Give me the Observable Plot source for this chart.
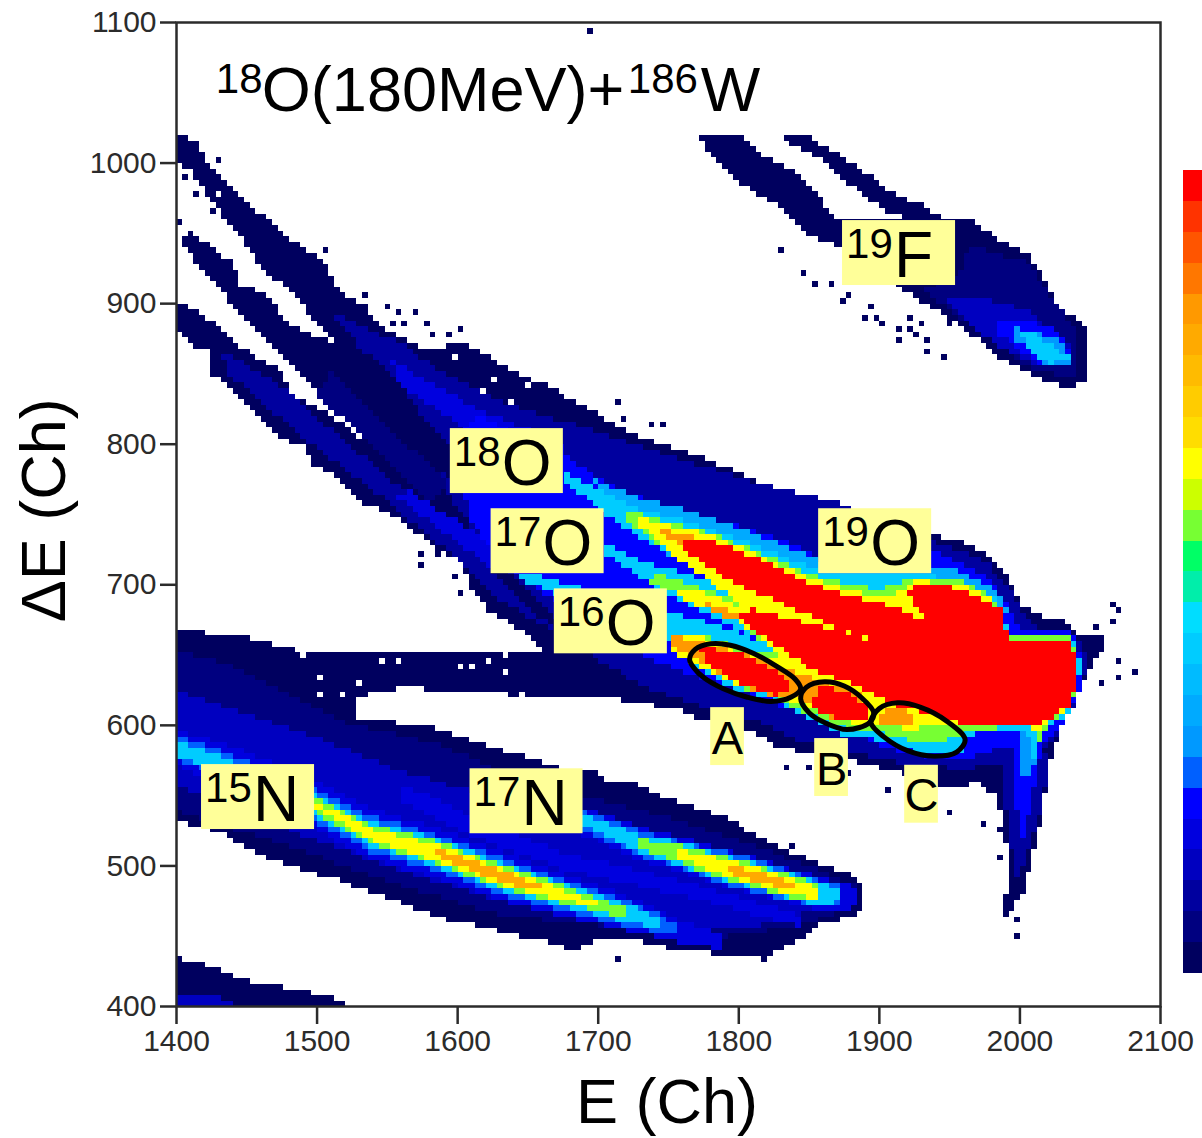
<!DOCTYPE html>
<html>
<head>
<meta charset="utf-8">
<script src="https://cdn.jsdelivr.net/npm/d3@7"></script>
<script src="https://cdn.jsdelivr.net/npm/@observablehq/plot@0.6"></script>
<style>html,body{margin:0;padding:0;background:#fff}svg{display:block}</style>
</head>
<body>
<div id="chart"></div>
<script>
const FONT = "'Liberation Sans', Arial, sans-serif";
// palette, from the colour bar, bottom (level 0) to top (level 25)
const palette = ["#00005f","#000080","#00009f","#0000c0","#0000df","#0000ff","#0060ff","#0099ff","#00aaff","#00bbff","#00ccff","#00ddff","#00eeaa","#00ff66","#77ff33","#ccff00","#ffff00","#ffdd00","#ffcc00","#ffbb00","#ffaa00","#ff9900","#ff7700","#ff5500","#ff3300","#ff0000"];
const xTicks = [1400,1500,1600,1700,1800,1900,2000,2100];
const yTicks = [400,500,600,700,800,900,1000,1100];

// ---- population outlines, [E, dE] in channels
const strand18O = [[1400,1021],[1414,1016],[1421,1000],[1440,983],[1455,968],[1479,948],[1507,929],[1515,909],[1533,900],[1543,886],[1576,867],[1604,872],[1640,852],[1671,838],[1704,819],[1728,805],[1751,799],[1751,720],[1650,770],[1580,810],[1524,860],[1515,869],[1497,888],[1486,904],[1467,919],[1453,936],[1441,954],[1424,973],[1412,993],[1403,1000],[1400,1005]];
const strand17O = [[1408,952],[1422,943],[1440,929],[1446,914],[1467,904],[1476,888],[1502,876],[1519,869],[1560,830],[1600,770],[1522,819],[1500,838],[1490,847],[1472,865],[1448,888],[1429,914],[1416,926],[1405,943]];
const strand16O = [[1400,902],[1422,890],[1446,869],[1474,852],[1483,833],[1497,829],[1515,817],[1538,800],[1552,786],[1600,790],[1700,700],[1662,653],[1635,675],[1623,680],[1609,698],[1604,715],[1581,729],[1552,751],[1533,758],[1522,769],[1512,779],[1497,786],[1490,800],[1476,803],[1460,819],[1446,833],[1426,850],[1424,865],[1410,872],[1400,883]];
const mainComplex = [[1560,800],[1576,867],[1604,872],[1640,852],[1671,838],[1704,819],[1728,805],[1751,799],[1787,785],[1820,771],[1851,762],[1882,749],[1936,736],[1958,731],[1974,723],[1991,708],[2000,687],[2020,676],[2036,673],[2041,665],[2059,662],[2059,655],[2052,644],[2043,625],[2031,603],[2022,575],[2015,534],[2008,502],[2003,483],[1991,463],[1988,470],[1993,490],[1990,518],[1984,549],[1970,559],[1941,554],[1917,566],[1879,575],[1851,580],[1828,584],[1810,596],[1768,606],[1756,611],[1716,618],[1668,620],[1665,650],[1620,700],[1580,770]];
const nitrogenBand = [[1400,667],[1438,665],[1488,653],[1524,652],[1595,652],[1671,653],[1680,640],[1668,620],[1561,627],[1526,620],[1529,606],[1586,598],[1604,591],[1633,582],[1673,570],[1699,568],[1709,559],[1723,561],[1739,552],[1768,542],[1796,532],[1815,520],[1830,513],[1851,504],[1877,495],[1888,488],[1888,470],[1879,463],[1858,459],[1849,449],[1825,440],[1818,435],[1780,438],[1749,442],[1730,446],[1700,449],[1685,440],[1659,447],[1597,461],[1561,473],[1515,490],[1462,506],[1429,525],[1400,532]];
const lowestBand = [[1400,400],[1400,435],[1417,431],[1453,418],[1490,411],[1519,404],[1520,400]];
const lowestCore = [[1400,400],[1400,410],[1430,408],[1445,400]];
const fluorineMain = [[1771,1021],[1803,1021],[1815,1007],[1837,995],[1853,983],[1860,971],[1872,959],[1920,960],[1963,961],[1984,947],[2005,936],[2017,919],[2027,900],[2048,881],[2048,847],[2038,840],[2017,845],[1984,862],[1960,883],[1915,911],[1870,941],[1853,947],[1837,961],[1825,971],[1801,985],[1783,1002],[1773,1016]];
const fluorineUpper = [[1832,1021],[1851,1018],[1863,1011],[1877,1002],[1896,990],[1908,980],[1929,971],[1944,961],[1933,958],[1911,963],[1894,973],[1880,984],[1865,998],[1848,1009],[1833,1016]];
const fluorineL1 = [[1963,943],[2005,929],[2041,879],[2041,847],[2010,852],[1972,879],[1931,909],[1960,924]];
const fluorineL3 = [[1948,904],[1972,904],[2008,895],[2036,869],[2038,857],[2015,855],[1984,869],[1953,895]];
const fluorineL5 = [[1984,888],[2005,890],[2029,879],[2038,860],[2015,856],[1984,879]];
const fluorineL7 = [[1995,883],[2027,876],[2037,857],[2017,857],[1998,874]];
const fluorineL10 = [[2000,879],[2010,879],[2036,862],[2020,857],[2005,869]];

const nitrogenL1 = [[1400,653],[1438,643],[1474,625],[1517,603],[1588,586],[1645,561],[1702,547],[1744,536],[1801,518],[1858,497],[1883,486],[1883,472],[1844,458],[1773,447],[1702,458],[1630,465],[1559,486],[1488,511],[1445,525],[1400,539]];
const nitrogenL3 = [[1400,625],[1488,596],[1559,568],[1630,547],[1730,518],[1815,497],[1879,479],[1879,475],[1815,458],[1737,454],[1630,475],[1559,497],[1488,522],[1400,558]];

const strip16L2 = [[1431,867],[1474,842],[1502,817],[1545,781],[1581,753],[1609,724],[1638,696],[1670,667],[1630,689],[1588,728],[1545,763],[1502,795],[1467,824],[1438,849]];
const strip17L1 = [[1510,852],[1595,770],[1580,760],[1500,835]];
const strip18L2 = [[1510,895],[1552,875],[1588,850],[1630,830],[1660,815],[1700,790],[1660,790],[1609,812],[1566,838],[1531,868]];
const complexL2 = [[1538,874],[1552,877],[1588,852],[1630,831],[1673,817],[1737,796],[1808,774],[1865,760],[1936,732],[1976,717],[1993,696],[2008,671],[2040,664],[2050,646],[2040,618],[2029,596],[2010,575],[1958,569],[1915,573],[1879,581],[1844,589],[1815,602],[1773,614],[1730,628],[1702,646],[1673,675],[1630,717],[1595,760],[1581,810],[1559,845]];
const navyBetween = [[1540,850],[1590,805],[1610,780],[1620,765],[1600,770],[1575,795],[1545,825]];
const strip18L4 = [[1552,860],[1616,824],[1677,799],[1675,781],[1616,803],[1559,842]];
const strip16L4 = [[1566,767],[1609,739],[1630,728],[1630,707],[1588,739],[1556,763]];
const tailL2 = [[1986,575],[2022,582],[2015,539],[2004,504],[1997,490],[1992,525],[1988,554]];
const complexL5 = [[1616,820],[1675,792],[1716,767],[1766,751],[1823,735],[1856,721],[1901,717],[1940,723],[1974,708],[1991,687],[2000,667],[2037,669],[2044,644],[2042,625],[2036,609],[2027,598],[2015,586],[1979,582],[1958,574],[1915,581],[1879,594],[1823,616],[1773,634],[1739,646],[1716,664],[1668,689],[1630,717],[1609,746],[1598,803]];
const tailL5 = [[1997,586],[2016,586],[2008,547],[2000,511],[1997,554]];
const tailL7 = [[2002,596],[2015,593],[2008,561],[2002,565]];
const complexSky = [[1690,778],[1730,762],[1773,750],[1815,735],[1858,718],[1901,716],[1953,711],[1984,697],[1993,680],[1900,680],[1750,720]];
const complexCyan = [[1675,780],[1702,767],[1730,754],[1773,742],[1815,727],[1858,709],[1901,709],[1953,705],[1984,690],[1993,666],[2036,666],[2043,646],[2041,627],[2034,608],[2018,599],[2010,577],[2004,598],[1979,596],[1963,593],[1959,581],[1936,578],[1901,589],[1872,594],[1844,609],[1823,618],[1794,627],[1766,644],[1748,660],[1702,680],[1645,704],[1645,710],[1702,694],[1751,680],[1787,671],[1818,657],[1799,669],[1773,682],[1744,696],[1716,714],[1704,723],[1704,731],[1730,717],[1759,709],[1780,702],[1798,695],[1766,715],[1739,728],[1709,747],[1692,761],[1675,774]];
const complexGreen = [[1719,753],[1773,739],[1815,723],[1851,707],[1901,696],[1919,704],[1961,702],[1983,689],[1992,664],[2035,664],[2042,646],[2040,626],[2033,611],[2020,601],[2013,588],[2008,599],[1983,598],[1963,595],[1950,590],[1933,586],[1904,594],[1876,598],[1847,609],[1826,620],[1798,628],[1769,645],[1753,657],[1750,665],[1773,665],[1805,653],[1828,650],[1798,675],[1773,685],[1755,694],[1730,704],[1744,707],[1766,700],[1798,689],[1773,710],[1744,728],[1719,747]];
const complexYellow = [[1730,747],[1773,738],[1815,721],[1851,704],[1901,690],[1917,696],[1926,703],[1961,700],[1979,690],[1990,662],[2034,662],[2041,646],[2039,626],[2033,612],[2020,602],[2013,593],[2008,601],[1983,601],[1962,598],[1940,600],[1925,597],[1901,600],[1892,601],[1872,603],[1847,614],[1826,621],[1798,630],[1773,641],[1755,651],[1751,663],[1773,663],[1805,651],[1833,646],[1801,674],[1773,684],[1759,691],[1756,696],[1773,695],[1805,683],[1798,689],[1773,707],[1751,723],[1730,742]];
const orangeTip18 = [[1739,741],[1766,735],[1787,728],[1766,726],[1748,733]];
const orangeTip17 = [[1775,687],[1801,680],[1801,675],[1781,680]];
const orangeTip16 = [[1750,664],[1773,660],[1787,650],[1766,650],[1752,655]];
const orangeAB = [[1773,657],[1805,652],[1837,639],[1858,632],[1886,625],[1894,611],[1890,602],[1865,605],[1840,621],[1823,621],[1794,632],[1773,646]];
const orangeC = [[1901,609],[1915,614],[1926,603],[1912,598],[1901,602]];
const redMain = [[1760,731],[1780,732],[1810,720],[1844,704],[1867,695],[1899,688],[1920,680],[1934,672],[1920,696],[1929,701],[1960,697],[1974,690],[1986,684],[1991,662],[2034,660],[2040,646],[2040,627],[2034,613],[2020,603],[2010,601],[1981,601],[1963,600],[1943,606],[1906,616],[1882,630],[1856,637],[1830,655],[1813,665],[1800,680],[1810,683],[1846,673],[1870,668],[1899,658],[1899,659],[1867,670],[1844,681],[1810,695],[1787,707],[1760,726]];
const redA = [[1771,655],[1796,653],[1823,641],[1839,627],[1828,621],[1815,625],[1796,632],[1778,644]];
const redB = [[1856,627],[1877,625],[1892,613],[1892,602],[1867,606],[1851,613]];

// ---- nitrogen ridges: E, centre dE, half-widths of levels 4, 6, 10, 14, 16, 20, 25
const ridgeLevels = [4,6,10,14,16,20,25];
const ridge15N = [[1400,584,13,9,6,0,0,0,0],[1420,577,14,9,5,0,0,0,0],[1450,565,16,10,6,0,0,0,0],[1497,544,17,12,8,5,2,0,0],[1538,523,18,13,9,7,4,0,0],[1586,509,18,13,10,8,6,3,0],[1633,492,17,13,10,8,6,4,0],[1660,484,16,12,9,7,5,2,0],[1680,478,15,11,8,6,3,0,0],[1702,472,13,10,7,4,1,0,0],[1721,466,12,9,6,3,0,0,0],[1744,459,10,7,4,0,0,0,0],[1756,454,8,4,0,0,0,0,0],[1790,445,5,0,0,0,0,0,0]];
const ridge16N = [[1561,552,6,0,0,0,0,0,0],[1608,529,7,0,0,0,0,0,0],[1673,504,6,0,0,0,0,0,0],[1768,482,5,0,0,0,0,0,0],[1844,461,4,0,0,0,0,0,0]];
const ridge17N = [[1645,547,6,0,0,0,0,0,0],[1690,532,10,7,4,0,0,0,0],[1730,516,12,9,6,3,0,0,0],[1756,509,12,9,8,6,3,0,0],[1792,498,13,12,9,8,6,3,0],[1815,492,13,12,9,8,6,4,1],[1839,485,12,10,9,8,6,3,0],[1858,480,12,10,8,5,3,0,0],[1874,478,10,7,3,0,0,0,0],[1885,478,5,0,0,0,0,0,0]];

// isolated filled bins and dropped bins
const strayBinsE = [2066,2070,2054,2066,2070,2081,2069,2059,1695,1833,1849,1879,1906,1949,1974,1986,1986,1998,1998,1837,1712,1818,1830,1847,1853,1865,1879,1874,1894,1896,1888,1903,1913,1922,1929,1924,1913,1935,1934,1947,1920,1948,1404,1430,1412,1426,1400,1506,1533,1549,1557,1571,1561,1552,1578,1583,1593,1601,1712,1717,1739,1746,1575,1586,1574,1597,1602,1613];
const strayBinsDE = [687,680,670,672,646,639,635,631,1092,571,571,566,555,538,530,527,506,461,450,515,434,435,939,922,913,914,904,902,899,890,890,886,883,881,886,876,875,872,867,863,890,886,990,1002,978,967,959,936,906,899,894,894,887,887,886,879,879,883,830,819,815,812,723,721,712,704,694,703];
const droppedBinsE = [1430,1598,1625,1618,1636,1650,1458,1475,1417,1501,1529,1488,1502,1519,1559,1545,1600,1609,1620,1633,1633,1645,1579,1597,1557,1480];
const droppedBinsDE = [979,862,845,837,830,842,918,914,635,635,630,651,623,620,646,644,643,643,645,651,639,623,623,622,627,602];

// ---- annotation values
const labelNumbers = ["18","17","16","19","19","15","17"];
const labelElements = ["O","O","O","O","F","N","N"];
const labelE = [1635,1664,1709,1897,1914,1458,1649];
const labelDE = [788,731,674,731,936,549,546];
const letters = ["A","B","C"];
const letterE = [1792,1866,1930];
const letterDE = [592,570,551];
const ellipseA = [[1765,647],[1769,654],[1780,658],[1794,657],[1811,651],[1827,642],[1840,633],[1844,626],[1837,620],[1823,617],[1806,620],[1789,626],[1775,634],[1768,641]];
const ellipseB = [[1844,619],[1848,627],[1861,631],[1875,628],[1887,620],[1896,609],[1893,602],[1877,597],[1861,602],[1850,609]];
const ellipseC = [[1894,602],[1900,612],[1913,616],[1929,613],[1948,603],[1961,590],[1955,581],[1939,578],[1920,582],[1903,592]];

// ---- paint order of the density layers
const layers = [
  [0,strand18O],[0,strand17O],[0,strand16O],[0,mainComplex],[0,nitrogenBand],[0,lowestBand],[0,fluorineMain],[0,fluorineUpper],
  [3,lowestCore],[1,fluorineL1],[3,fluorineL3],[5,fluorineL5],[7,fluorineL7],[10,fluorineL10],
  [1,nitrogenL1],[3,nitrogenL3],[2,strip16L2],[1,strip17L1],[2,strip18L2],[2,complexL2],[2,tailL2],[0,navyBetween],[4,strip18L4],[4,strip16L4],
  [5,complexL5],[5,tailL5],[7,tailL7],[8,complexSky],[10,complexCyan],[14,complexGreen],[16,complexYellow],
  [21,orangeTip18],[21,orangeTip17],[21,orangeTip16],[21,orangeAB],[21,orangeC],[25,redMain],[25,redA],[25,redB]
];
for (const rows of [ridge16N, ridge17N, ridge15N]) {
  ridgeLevels.forEach((level, j) => {
    const r = rows.filter(d => d[2 + j] > 0);
    if (r.length > 1) layers.splice(layers.findIndex(l => l[1] === complexL5), 0,
      [level, [...r.map(d => [d[0], d[1] + d[2 + j]]), ...r.slice().reverse().map(d => [d[0], d[1] - d[2 + j]])]]);
  });
}
const binKey = (E, dE) => Math.floor((E - 1400) / 4) + "_" + Math.floor((dE - 400) / 4);
const stray = new Set(strayBinsE.map((e, i) => binKey(e, strayBinsDE[i])));
const dropped = new Set(droppedBinsE.map((e, i) => binKey(e, droppedBinsDE[i])));
function density(E, dE) {
  const k = binKey(E, dE);
  let v = 0;
  for (let i = layers.length - 1; i >= 0; --i) {
    if (d3.polygonContains(layers[i][1], [E, dE])) { v = layers[i][0] + 1; break; }
  }
  if (v === 1 && dropped.has(k)) return 0;
  if (v === 0 && stray.has(k)) return 1;
  return v;
}

const labels = labelNumbers.map((n, i) => ({n, el: labelElements[i], E: labelE[i], dE: labelDE[i]}));
const letterRows = letters.map((t, i) => ({t, E: letterE[i], dE: letterDE[i]}));
const bar = palette.map((c, i) => ({level: i + 1, i}));
const barLow = 423.5, barStep = 21.97;
const ink = "#2b2b2b";

const chart = Plot.plot({
  width: 1202, height: 1138,
  marginLeft: 176, marginRight: 42, marginTop: 22, marginBottom: 132,
  style: {fontFamily: FONT, background: "#fff", overflow: "visible"},
  x: {domain: [1400, 2100], label: null},
  y: {domain: [400, 1100], label: null},
  color: {type: "threshold", domain: d3.range(1, 27), range: ["#ffffff", ...palette]},
  marks: [
    Plot.raster({x1: 1400, x2: 2100, y1: 400, y2: 1100, width: 175, height: 175, imageRendering: "pixelated", fill: density}),
    Plot.frame({stroke: ink, strokeWidth: 2.5}),
    Plot.axisX(xTicks, {tickSize: 18, tickPadding: 5, fontSize: 30, stroke: ink, strokeWidth: 2.5, fill: ink, tickFormat: d => String(d), label: null}),
    Plot.axisY(yTicks, {tickSize: 16, tickPadding: 4, fontSize: 30, stroke: ink, strokeWidth: 2.5, fill: ink, tickFormat: d => String(d), label: null}),
    // colour bar
    Plot.rect(bar, {x1: 2116.4, x2: 2130, y1: d => barLow + d.i * barStep, y2: d => barLow + (d.i + 1) * barStep, fill: "level", shapeRendering: "crispEdges"}),
    // label boxes
    Plot.rect(labels, {x1: d => d.E - 40.2, x2: d => d.E + 40.2, y1: d => d.dE - 23.1, y2: d => d.dE + 23.1, fill: "#ffff99"}),
    Plot.rect(letterRows, {x1: d => d.E - 12, x2: d => d.E + 12, y1: d => d.dE - 20.6, y2: d => d.dE + 20.6, fill: "#ffff99"}),
    Plot.text(labels, {x: "E", y: "dE", text: "n", fontSize: 42, textAnchor: "start", lineAnchor: "bottom", dx: -53, dy: 5, fill: "#000"}),
    Plot.text(labels, {x: "E", y: "dE", text: "el", fontSize: 64, textAnchor: "start", lineAnchor: "bottom", dx: -5, dy: 24, fill: "#000"}),
    Plot.text(letterRows, {x: "E", y: "dE", text: "t", fontSize: 47, textAnchor: "middle", lineAnchor: "bottom", dy: 17, fill: "#000"}),
    // ellipses
    ...[ellipseA, ellipseB, ellipseC].map(r => Plot.line(r, {x: d => d[0], y: d => d[1], curve: "catmull-rom-closed", stroke: "#000", strokeWidth: 5, fill: "none"})),
    // title pieces
    Plot.text(["18"], {x: [1428], y: [1050], text: d => d, fontSize: 42, textAnchor: "start", lineAnchor: "bottom", fill: "#000"}),
    Plot.text(["O(180MeV)+"], {x: [1428], y: [1050], text: d => d, fontSize: 63, textAnchor: "start", lineAnchor: "bottom", dx: 46, dy: 18, fill: "#000"}),
    Plot.text(["186"], {x: [1428], y: [1050], text: d => d, fontSize: 42, textAnchor: "start", lineAnchor: "bottom", dx: 412, fill: "#000"}),
    Plot.text(["W"], {x: [1428], y: [1050], text: d => d, fontSize: 63, textAnchor: "start", lineAnchor: "bottom", dx: 485, dy: 18, fill: "#000"}),
    // axis titles
    Plot.text(["E (Ch)"], {x: [1749], y: [317], text: d => d, fontSize: 63, textAnchor: "middle", lineAnchor: "bottom", fill: "#000"}),
    Plot.text(["\u0394E (Ch)"], {x: [1321], y: [753], text: d => d, fontSize: 63, rotate: -90, textAnchor: "middle", lineAnchor: "bottom", fill: "#000"})
  ]
});
document.getElementById("chart").appendChild(chart);
</script>
</body>
</html>
